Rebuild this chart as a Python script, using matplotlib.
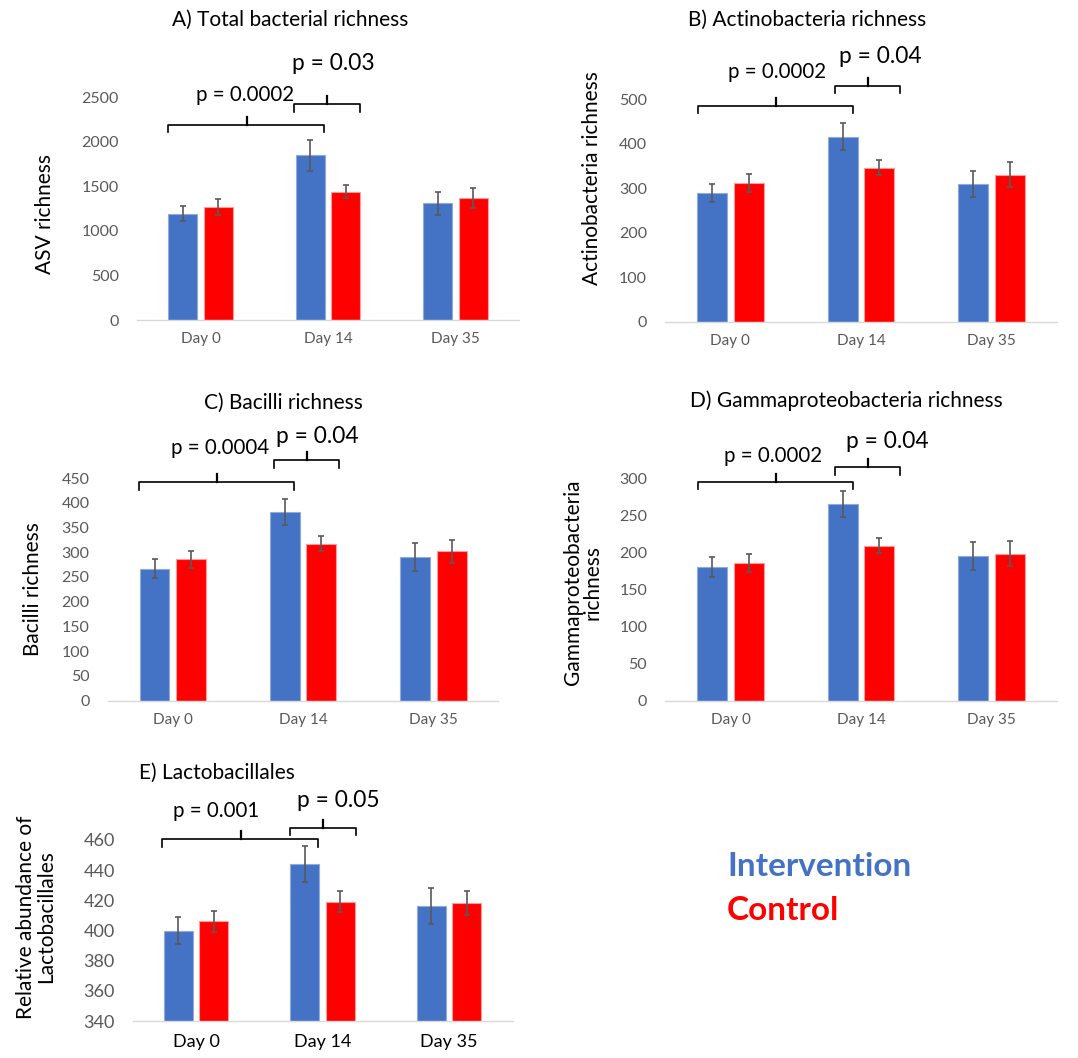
import matplotlib
matplotlib.use("Agg")
import matplotlib.pyplot as plt
import numpy as np

plt.rcParams['font.family'] = ['Lato', 'DejaVu Sans']

BLUE = '#4472C4'
RED = '#FF0000'
GREY = '#595959'

days = ["Day 0", "Day 14", "Day 35"]

# A) Total bacterial richness
a_int = [1193, 1848, 1310]
a_int_err = [86, 170, 131]
a_ctl = [1265, 1440, 1369]
a_ctl_err = [88, 73, 117]

# B) Actinobacteria richness
b_int = [289, 416, 309]
b_int_err = [20, 30, 29]
b_ctl = [312, 346, 330]
b_ctl_err = [21, 17, 28]

# C) Bacilli richness
c_int = [267, 381, 291]
c_int_err = [19, 26, 28]
c_ctl = [286, 317, 302]
c_ctl_err = [17, 15, 23]

# D) Gammaproteobacteria richness
d_int = [180, 265, 195]
d_int_err = [13, 18, 19]
d_ctl = [185, 209, 198]
d_ctl_err = [12, 10, 17]

# E) Lactobacillales
e_int = [400, 444, 416]
e_int_err = [9, 12, 12]
e_ctl = [406, 419, 418]
e_ctl_err = [7, 7, 8]

P_SMALL, P_BIG = 14.8, 16.4

# brackets: (x_left, x_right, x_tick, y, label, label_x, label_y, size)
a_brackets = [(-0.254, 0.969, 0.361, 2190, "p = 0.0002", 0.351, 2526, P_SMALL),
              (0.736, 1.249, 0.992, 2421, "p = 0.03", 1.045, 2874, P_BIG)]
b_brackets = [(-0.251, 0.942, 0.35, 485, "p = 0.0002", 0.358, 562, P_SMALL),
              (0.80, 1.30, 1.057, 530, "p = 0.04", 1.149, 597, P_BIG)]
c_brackets = [(-0.262, 0.932, 0.339, 441, "p = 0.0004", 0.36, 510, P_SMALL),
              (0.777, 1.278, 1.028, 486, "p = 0.04", 1.108, 534, P_BIG)]
d_brackets = [(-0.251, 0.942, 0.35, 295, "p = 0.0002", 0.325, 330, P_SMALL),
              (0.80, 1.30, 1.057, 314.5, "p = 0.04", 1.20, 349, P_BIG)]
e_brackets = [(-0.266, 0.966, 0.353, 460.5, "p = 0.001", 0.16, 479, P_SMALL),
              (0.745, 1.264, 1.006, 468.2, "p = 0.05", 1.127, 486, P_BIG)]

W, H = 1078, 1058
fig = plt.figure(figsize=(W / 100, H / 100), dpi=100)


def px_axes(left, right, top, bottom):
    return fig.add_axes([left / W, 1 - bottom / H, (right - left) / W, (bottom - top) / H])


def fig_text(x, y, s, **kw):
    fig.text(x / W, 1 - y / H, s, **kw)


def draw_panel(ax, ints, ints_err, ctls, ctls_err, ylim, step, brackets,
               tick_size=11.5, day_size=11, day_color=GREY):
    x = np.arange(len(days))
    ekw = dict(ecolor=GREY, elinewidth=1.2, capsize=2.5, capthick=1.2)
    ax.bar(x - 0.14, ints, 0.23, yerr=ints_err, color=BLUE,
           edgecolor='#8FAADC', linewidth=0.8, error_kw=ekw)
    ax.bar(x + 0.14, ctls, 0.23, yerr=ctls_err, color=RED,
           edgecolor='#FF9B9B', linewidth=0.8, error_kw=ekw)
    ax.set_xlim(-0.5, 2.5)
    ax.set_ylim(*ylim)
    ax.set_yticks(np.arange(ylim[0], ylim[1] + 1, step))
    ax.set_xticks(x)
    ax.set_xticklabels(days)
    for s in ['top', 'right', 'left']:
        ax.spines[s].set_visible(False)
    ax.spines['bottom'].set_color('#D9D9D9')
    ax.spines['bottom'].set_linewidth(1)
    ax.tick_params(axis='y', length=0, pad=13, labelcolor=GREY, labelsize=tick_size)
    ax.tick_params(axis='x', length=0, pad=9, labelcolor=day_color, labelsize=day_size)

    # bracket leg lengths in pixels -> data units
    h_px = ax.get_position().height * H
    upp = (ylim[1] - ylim[0]) / h_px
    for x0, x1, xm, y, lab, tx, ty, size in brackets:
        ax.plot([x0, x0, x1, x1], [y - 7.5 * upp, y, y, y - 7.5 * upp],
                color='black', lw=1.2, clip_on=False, solid_joinstyle='round')
        ax.plot([xm, xm], [y, y + 8 * upp], color='black', lw=1.6, clip_on=False)
        ax.text(tx, ty, lab, ha='center', va='center', fontsize=size, clip_on=False)


ax_a = px_axes(137, 519, 97.3, 320)
draw_panel(ax_a, a_int, a_int_err, a_ctl, a_ctl_err, (0, 2500), 500, a_brackets)
ax_b = px_axes(665, 1057, 99.3, 321.7)
draw_panel(ax_b, b_int, b_int_err, b_ctl, b_ctl_err, (0, 500), 100, b_brackets)
ax_c = px_axes(107.6, 498.5, 478, 700.7)
draw_panel(ax_c, c_int, c_int_err, c_ctl, c_ctl_err, (0, 450), 50, c_brackets)
ax_d = px_axes(665.3, 1056.7, 478, 700.7)
draw_panel(ax_d, d_int, d_int_err, d_ctl, d_ctl_err, (0, 300), 50, d_brackets)
ax_e = px_axes(132.7, 512.5, 840, 1021)
draw_panel(ax_e, e_int, e_int_err, e_ctl, e_ctl_err, (340, 460), 20, e_brackets,
           tick_size=13, day_size=13, day_color='black')

# titles
TS = 15
fig_text(290, 20, "A) Total bacterial richness", ha='center', va='center', fontsize=TS)
fig_text(807, 20, "B) Actinobacteria richness", ha='center', va='center', fontsize=TS)
fig_text(283, 403, "C) Bacilli richness", ha='center', va='center', fontsize=TS)
fig_text(846, 401, "D) Gammaproteobacteria richness", ha='center', va='center', fontsize=TS)
fig_text(217, 773, "E) Lactobacillales", ha='center', va='center', fontsize=TS)

# y labels
YS = 15
fig_text(45, 214, "ASV richness", ha='center', va='center', rotation=90, fontsize=YS)
fig_text(592, 178, "Actinobacteria richness", ha='center', va='center', rotation=90, fontsize=YS)
fig_text(33, 589, "Bacilli richness", ha='center', va='center', rotation=90, fontsize=YS)
fig_text(583, 582, "Gammaproteobacteria\nrichness", ha='center', va='center', rotation=90,
         fontsize=YS, linespacing=1.0)
fig_text(36, 917, "Relative abundance of\nLactobacillales", ha='center', va='center',
         rotation=90, fontsize=YS, linespacing=1.0)

# legend as coloured text
fig_text(727, 867, "Intervention", ha='left', va='center', fontsize=24,
         fontweight='bold', color=BLUE)
fig_text(727, 910, "Control", ha='left', va='center', fontsize=24,
         fontweight='bold', color=RED)

fig.savefig("out.png", dpi=100, facecolor='white')
